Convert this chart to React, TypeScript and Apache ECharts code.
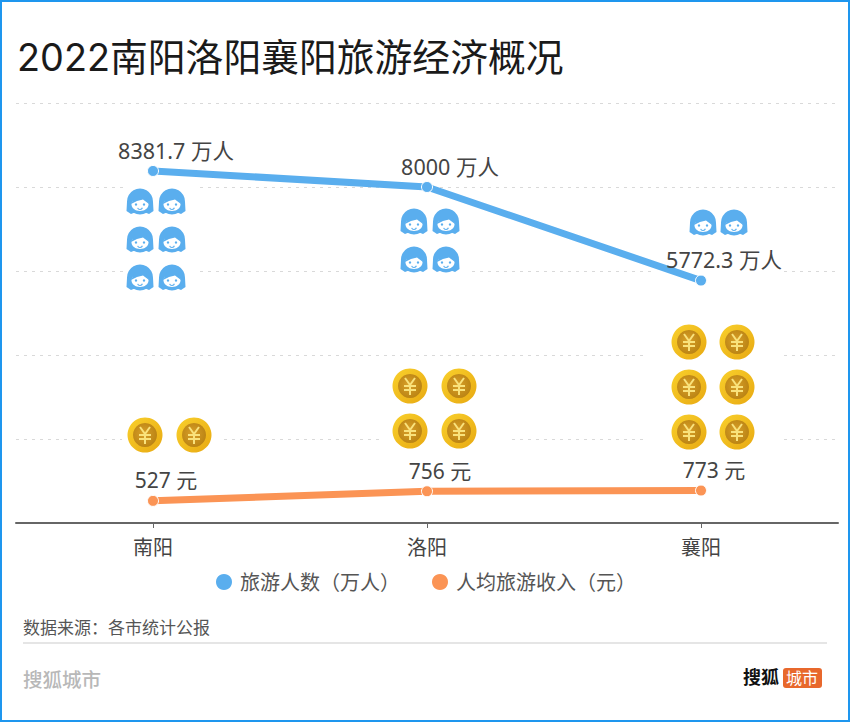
import React, { useEffect, useRef } from "react";
import * as echarts from "echarts";

const categories = ["南阳", "洛阳", "襄阳"];
const visitors = [8381.7, 8000, 5772.3];
const income = [527, 756, 773];
const visitorIconCounts = [6, 4, 2];
const incomeIconCounts = [2, 4, 6];
const titleText = "2022南阳洛阳襄阳旅游经济概况";
const sourceText = "数据来源：各市统计公报";
const brandText = "搜狐城市";
const logoText = "搜狐";
const logoBadge = "城市";
const visitorsName = "旅游人数（万人）";
const incomeName = "人均旅游收入（元）";

const BLUE = "#5aaeee";
const ORANGE = "#fb9455";
const LATIN = "Inter, 'Noto Sans CJK SC', sans-serif";
const FONT = "'Noto Sans', 'Noto Sans CJK SC', sans-serif";

const faceLayout = [
  { dx: [-13, 19], top: 202, step: 38, pad: [2, 12, 2] },
  { dx: [-13, 19], top: 222, step: 38, pad: [9, 8, 2] },
  { dx: [2, 33], top: 223, step: 38, pad: [34, 33, 40] },
];
const coinLayout = [
  { dx: [-8, 41], top: 435, step: 45, pad: [5, 12, 4] },
  { dx: [-17, 32], top: 386, step: 45, pad: [11, 34, 4] },
  { dx: [-12, 36], top: 342, step: 45, pad: [26, 25, 4] },
];

function faceIcon(x: number, y: number) {
  const c = (cx: number, cy: number, r: number, fill: string) => ({
    type: "circle",
    shape: { cx: x + cx, cy: y + cy, r },
    style: { fill },
  });
  return [
    c(0, -0.5, 13, BLUE),
    {
      type: "polygon",
      shape: {
        points: [
          [x - 13, y], [x - 13.5, y + 9], [x - 9, y + 12], [x - 4, y + 10],
          [x + 4, y + 10], [x + 9, y + 12], [x + 13.5, y + 9], [x + 13, y],
        ],
      },
      style: { fill: BLUE },
    },
    {
      type: "ellipse",
      shape: { cx: x, cy: y + 2.5, rx: 8.5, ry: 6.5 },
      style: { fill: "#ffffff" },
    },
    {
      type: "polygon",
      shape: { points: [[x - 9, y + 2], [x - 5, y - 6], [x + 6, y - 6], [x + 9, y + 2], [x + 3, y - 2.5], [x - 3, y - 1]] },
      style: { fill: BLUE },
    },
    c(-4, 2.5, 1.2, BLUE),
    c(4, 2.5, 1.2, BLUE),
    { type: "arc", shape: { cx: x, cy: y + 5, r: 2.5, startAngle: 0.3, endAngle: 2.8 }, style: { stroke: BLUE, lineWidth: 1.2, fill: "none" } },
  ];
}

function coinIcon(x: number, y: number) {
  const gold = new echarts.graphic.LinearGradient(0, 0, 1, 1, [
    { offset: 0, color: "#f9d02c" },
    { offset: 1, color: "#e8a912" },
  ]);
  const inner = new echarts.graphic.RadialGradient(0.45, 0.45, 0.6, [
    { offset: 0, color: "#d9a02a" },
    { offset: 1, color: "#b98212" },
  ]);
  const yen = "#f9e27c";
  const ln = (x1: number, y1: number, x2: number, y2: number) => ({
    type: "line",
    shape: { x1: x + x1, y1: y + y1, x2: x + x2, y2: y + y2 },
    style: { stroke: yen, lineWidth: 2 },
  });
  return [
    { type: "circle", shape: { cx: x, cy: y, r: 17.5 }, style: { fill: gold } },
    { type: "circle", shape: { cx: x, cy: y, r: 12 }, style: { fill: inner } },
    ln(-5, -8, 0, -1),
    ln(5, -8, 0, -1),
    ln(0, -1, 0, 9),
    ln(-6, 0, 6, 0),
    ln(-6, 4, 6, 4),
  ];
}

function iconRender(layout: typeof faceLayout, draw: (x: number, y: number) => any[], half: number) {
  return (_: any, api: any) => {
    const idx = api.value(0);
    const count = api.value(1);
    const center = api.coord([idx, 0]);
    const l = layout[idx];
    const rows = Math.ceil(count / 2);
    const x0 = center[0] + l.dx[0] - half;
    const y0 = l.top - half;
    const children: any[] = [
      {
        type: "rect",
        shape: {
          x: x0 - l.pad[0],
          y: y0 - 3,
          width: l.dx[1] - l.dx[0] + 2 * half + l.pad[0] + l.pad[1],
          height: (rows - 1) * l.step + 2 * half + 3 + l.pad[2],
        },
        style: { fill: "#ffffff" },
      },
    ];
    for (let r = 0; r < rows; r++) {
      for (const dx of l.dx) children.push(...draw(center[0] + dx, l.top + r * l.step));
    }
    return { type: "group", children };
  };
}

const labelBase = { show: true, position: "top", color: "#444444", fontFamily: FONT };

export default function App() {
  const ref = useRef<HTMLDivElement>(null);
  useEffect(() => {
    const chart = echarts.init(ref.current!, null, { renderer: "svg" });
    chart.setOption({
      animation: false,
      backgroundColor: "#ffffff",
      legend: {
        left: 209,
        top: 567,
        icon: "circle",
        itemWidth: 18,
        itemHeight: 18,
        itemGap: 30,
        data: [visitorsName, incomeName],
        textStyle: { fontSize: 20, color: "#555555", fontFamily: FONT, padding: [0, 0, 0, 2] },
      },
      grid: { left: 16, right: 12, top: 103, height: 420 },
      xAxis: {
        type: "category",
        data: categories,
        axisTick: { show: true, alignWithLabel: true, length: 5, lineStyle: { color: "#666666", width: 1 } },
        axisLine: { lineStyle: { color: "#666666", width: 2 } },
        axisLabel: { fontSize: 20, color: "#444444", margin: 14, fontFamily: FONT },
      },
      yAxis: {
        type: "value",
        min: 0,
        max: 10000,
        interval: 2000,
        axisLabel: { show: false },
        axisLine: { show: false },
        axisTick: { show: false },
        splitLine: { lineStyle: { color: "#d9d9d9", type: [3, 5], width: 1 } },
      },
      series: [
        {
          type: "custom",
          z: 1,
          silent: true,
          encode: { x: 0, y: 1 },
          data: visitorIconCounts.map((n, i) => [i, n]),
          renderItem: iconRender(faceLayout, faceIcon, 14),
        },
        {
          type: "custom",
          z: 1,
          silent: true,
          encode: { x: 0, y: 1 },
          data: incomeIconCounts.map((n, i) => [i, n]),
          renderItem: iconRender(coinLayout, coinIcon, 18),
        },
        {
          name: visitorsName,
          type: "line",
          z: 3,
          data: visitors,
          symbol: "circle",
          symbolSize: 11,
          lineStyle: { color: BLUE, width: 7 },
          itemStyle: { color: BLUE, borderColor: "#ffffff", borderWidth: 1 },
          label: { ...labelBase, fontSize: 21.5, offset: [23, 1], formatter: (p: any) => `${p.value} 万人` },
        },
        {
          name: incomeName,
          type: "line",
          z: 3,
          data: income,
          symbol: "circle",
          symbolSize: 11,
          lineStyle: { color: ORANGE, width: 7 },
          itemStyle: { color: ORANGE, borderColor: "#ffffff", borderWidth: 1 },
          label: { ...labelBase, fontSize: 21, offset: [13, 1], formatter: (p: any) => `${p.value} 元` },
        },
      ],
      graphic: [
        {
          type: "rect",
          shape: { x: 1, y: 1, width: 848, height: 720 },
          style: { fill: "none", stroke: "#1e96ee", lineWidth: 2 },
          silent: true,
        },
        { type: "text", x: 17, y: 38, style: { text: titleText, fontSize: 37.8, fill: "#1a1a1a", fontFamily: LATIN } },
        { type: "text", x: 23, y: 619, style: { text: sourceText, fontSize: 17, fill: "#555555", fontFamily: FONT } },
        { type: "rect", shape: { x: 23, y: 642.5, width: 804, height: 1 }, style: { fill: "#cccccc" } },
        { type: "text", x: 23, y: 670, style: { text: brandText, fontSize: 19.5, fontWeight: 500, fill: "#b8b8b8", fontFamily: FONT } },
        { type: "text", x: 743, y: 668, style: { text: logoText, fontSize: 18, fontWeight: 700, fill: "#111111", fontFamily: FONT } },
        { type: "rect", shape: { x: 783, y: 668, width: 39, height: 20, r: 3 }, style: { fill: "#e8682c" } },
        { type: "text", x: 786, y: 670, style: { text: logoBadge, fontSize: 16, fill: "#ffffff", fontFamily: FONT } },
      ],
    });
    return () => chart.dispose();
  }, []);
  return (
    <div
      ref={ref}
      style={{ position: "fixed", left: 0, top: 0, width: 850, height: 723 }}
    />
  );
}
